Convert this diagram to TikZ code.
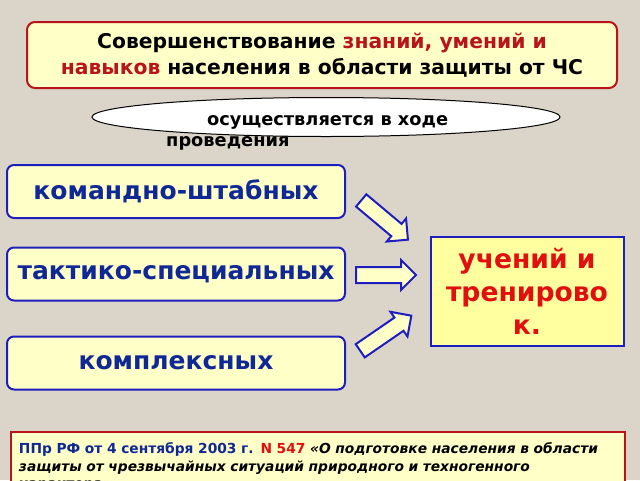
\documentclass[tikz,border=0pt]{standalone}
\usepackage{fontspec}
\setmainfont{DejaVu Sans}
\usepackage{tikz}
\usetikzlibrary{shapes.geometric}
\usetikzlibrary{shapes.arrows}
\usetikzlibrary{positioning}
\definecolor{bg}{RGB}{219,213,201}
\definecolor{paleyel}{RGB}{255,255,200}
\definecolor{yel}{RGB}{255,255,160}
\definecolor{dred}{RGB}{185,20,25}
\definecolor{bblue}{RGB}{30,30,190}
\definecolor{tblue}{RGB}{15,40,150}
\definecolor{tred}{RGB}{225,15,15}

\begin{document}
\begin{tikzpicture}[x=1pt,y=-1pt,
  kind/.style={draw=bblue,line width=2pt,fill=paleyel,rounded corners=7pt,minimum width=338pt,minimum height=53pt,text=tblue,font=\bfseries\fontsize{25}{29}\selectfont},
  blk/.style={single arrow,draw=bblue,line width=2pt,fill=paleyel,inner xsep=0pt,inner ysep=7pt,single arrow head extend=7pt,single arrow head indent=0pt}]
  \fill[bg] (0,0) rectangle (640,480);
  \clip (0,0) rectangle (640,480);

  \node (title) at (322,55)[draw=dred,line width=2pt,fill=paleyel,rounded corners=8pt,minimum width=590pt,minimum height=66pt,align=center,font=\bfseries\fontsize{20.3}{26}\selectfont]{Совершенствование \textcolor{dred}{знаний, умений и}\\\textcolor{dred}{навыков} населения в области защиты от ЧС};

  \node (oval) at (326,117)[ellipse,draw,line width=1pt,fill=white,minimum width=468pt,minimum height=39pt]{};
  \node (ovaltext) at (166,115)[anchor=north west,inner sep=0pt,align=left,font=\bfseries\fontsize{17.8}{21.5}\selectfont]{\hspace*{41pt}осуществляется в ходе\\проведения};

  \node (k1) at (176,191.5)[kind]{командно-штабных};
  \node (k2) at (176,274)[kind]{тактико-специальных};
  \node (k3) at (176,363)[kind]{комплексных};

  \node (ucen) at (527,291.5)[draw=bblue,line width=2pt,fill=yel,minimum width=193pt,minimum height=109pt,align=center,text=tred,font=\bfseries\fontsize{26.6}{33}\selectfont]{учений и\\тренирово\\к.};

  \node (a1) at (381.5,217.5)[blk,minimum height=61pt,rotate=-40]{};
  \node (a2) at (382,275)[blk,minimum height=60pt]{};
  \node (a3) at (382.5,335.5)[blk,minimum height=62pt,rotate=34.5]{};

  \node (ppr) at (10,431)[anchor=north west,draw=dred,line width=2pt,fill=paleyel,text width=598pt,minimum height=70pt,inner xsep=8pt,inner ysep=1pt,align=left,font=\bfseries\fontsize{13.8}{17.5}\selectfont]{\textcolor{tblue}{ППр РФ от 4 сентября 2003 г.} \textcolor{tred}{N 547} \textit{«О подготовке населения в области}\\\textit{защиты от чрезвычайных ситуаций природного и техногенного}\\\textit{характера»}};
\end{tikzpicture}
\end{document}
